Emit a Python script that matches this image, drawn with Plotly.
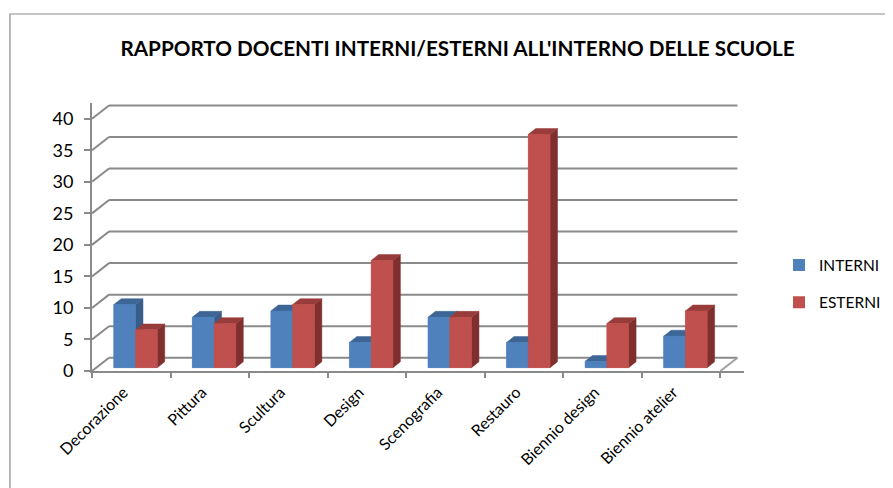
import plotly.graph_objects as go

categories = ["Decorazione", "Pittura", "Scultura", "Design", "Scenografia",
              "Restauro", "Biennio design", "Biennio atelier"]
interni = [10, 8, 9, 4, 8, 4, 1, 5]
esterni = [6, 7, 10, 17, 8, 37, 7, 9]
y_ticks = [0, 5, 10, 15, 20, 25, 30, 35, 40]
title_text = "RAPPORTO DOCENTI INTERNI/ESTERNI ALL'INTERNO DELLE SCUOLE"

# geometry
W, H = 893, 488
OFF = 8                    # page body margin in the browser
ML, MT, MB = 92 - OFF, 103 - OFF, 488 - (371 - OFF)
XMAX, YMAX = 8.3, 42.5
PXU = 78.5                 # px per category
MR = W - ML - XMAX * PXU
DX, DY = 0.2166, 2.11      # depth of the wall/floor
OX, OY = 0.054, 0.53       # bar front offset into depth
BX, BY = 0.095, 0.93       # bar depth
BW = 0.277                 # bar width
n = len(categories)

FONT = "Lato"
GRID = "#8a8a8a"

colors = {
    "INTERNI": ("#4F81BD", "#3D6595", "#385D8A"),
    "ESTERNI": ("#C0504D", "#973C3A", "#7F302E"),
}

fig = go.Figure()

series = [("INTERNI", interni, -1), ("ESTERNI", esterni, 0)]

# flat bars (legend + base layer)
for name, vals, k in series:
    xs = [i + 0.5 + OX + k * BW + BW / 2 for i in range(n)]
    fig.add_trace(go.Bar(x=xs, y=vals, base=OY, width=BW, name=name,
                         marker=dict(color=colors[name][0], line=dict(width=0)),
                         legendgroup=name, hoverinfo="skip"))

# 3D faces drawn on top in painter's order
for name, vals, k in series:
    front, top, side = colors[name]
    sx, sy, tx, ty, fx, fy = [], [], [], [], [], []
    for i, v in enumerate(vals):
        x0 = i + 0.5 + OX + k * BW
        x1 = x0 + BW
        y0 = OY
        y1 = OY + v
        sx += [x1, x1 + BX, x1 + BX, x1, x1, None]
        sy += [y0, y0 + BY, y1 + BY, y1, y0, None]
        tx += [x0, x1, x1 + BX, x0 + BX, x0, None]
        ty += [y1, y1, y1 + BY, y1 + BY, y1, None]
        fx += [x0, x1, x1, x0, x0, None]
        fy += [y0, y0, y1, y1, y0, None]
    for px, py, c in [(sx, sy, side), (tx, ty, top), (fx, fy, front)]:
        fig.add_trace(go.Scatter(x=px, y=py, fill="toself", fillcolor=c,
                                 mode="lines", line=dict(width=0.5, color=c),
                                 showlegend=False, hoverinfo="skip",
                                 xaxis="x2", yaxis="y"))

# walls / grid
shapes = []
for v in y_ticks:
    shapes.append(dict(type="line", xref="x", yref="y", x0=DX, y0=v + DY, x1=n + DX, y1=v + DY,
                       line=dict(color=GRID, width=2), layer="below"))
    shapes.append(dict(type="line", xref="x", yref="y", x0=0, y0=v, x1=DX, y1=v + DY,
                       line=dict(color=GRID, width=2), layer="below"))
shapes.append(dict(type="line", xref="x", yref="y", x0=n, y0=0, x1=n + DX, y1=DY,
                   line=dict(color="#a0a0a0", width=2), layer="below"))

# outer frame
pw = W - ML - MR
ph = H - MT - MB
shapes.append(dict(type="rect", xref="paper", yref="paper",
                   x0=(10 - OFF - ML) / pw, x1=(W + 20 - ML) / pw,
                   y0=-(H + 20 - (H - MB)) / ph, y1=((H - MB) - (14 - OFF)) / ph,
                   line=dict(color="#8c8c8c", width=1.2), fillcolor="rgba(0,0,0,0)"))

fig.update_layout(
    width=W, height=H,
    margin=dict(l=ML, r=MR, t=MT, b=MB, autoexpand=False),
    paper_bgcolor="white", plot_bgcolor="white",
    barmode="overlay",
    shapes=shapes,
    title=dict(text="<b>" + title_text + "</b>", x=(457.5 - OFF) / W, xanchor="center",
               y=1 - (49 - OFF) / H, yanchor="middle", xref="container", yref="container",
               font=dict(family=FONT, size=20.7, color="black")),
    xaxis=dict(range=[0, XMAX], tickvals=list(range(n + 1)), ticktext=[""] * (n + 1),
               ticks="outside", ticklen=5, tickcolor=GRID, tickwidth=2,
               showline=True, linecolor=GRID, linewidth=2, showgrid=False, zeroline=False,
               fixedrange=True, automargin=False),
    xaxis2=dict(range=[0, XMAX], overlaying="x", side="bottom", anchor="y",
                tickvals=[i + 0.4 for i in range(n)], ticktext=categories,
                tickangle=-45, ticks="", showline=False, showgrid=False, zeroline=False,
                ticklabelstandoff=8, automargin=False,
                tickfont=dict(family=FONT, size=16, color="black")),
    yaxis=dict(range=[0, YMAX], tickvals=y_ticks, ticks="outside", ticklen=6,
               tickcolor=GRID, tickwidth=2, showline=True, linecolor=GRID, linewidth=2,
               showgrid=False, zeroline=False, ticklabelstandoff=7, automargin=False,
               tickfont=dict(family=FONT, size=18, color="black")),
    legend=dict(xref="container", yref="container", x=(779 - OFF) / W, xanchor="left",
                y=1 - (284 - OFF) / H, yanchor="middle",
                traceorder="grouped", tracegroupgap=14,
                font=dict(family=FONT, size=15.5, color="black"),
                bgcolor="rgba(0,0,0,0)"),
    showlegend=True,
)

fig.write_html("out.html")
